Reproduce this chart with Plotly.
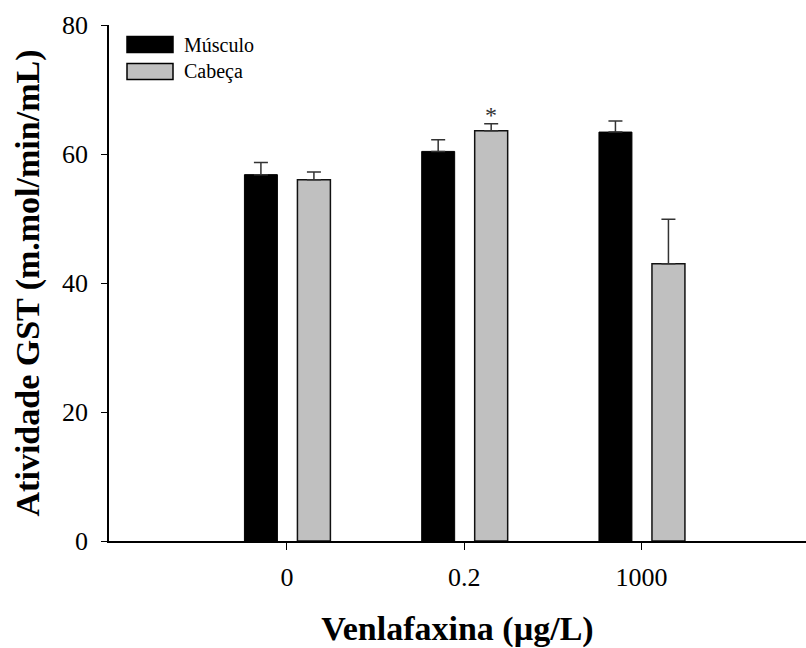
import plotly.graph_objects as go

categories = ["0", "0.2", "1000"]
musculo = [56.8, 60.4, 63.4]
musculo_err = [1.9, 1.8, 1.7]
cabeca = [56.0, 63.6, 43.0]
cabeca_err = [1.2, 1.1, 6.9]
y_ticks = [0, 20, 40, 60, 80]

FONT = "'Times New Roman', 'Liberation Serif', Tinos, 'DejaVu Serif', serif"

xpos = list(range(len(categories)))
bar_w = 0.186

fig = go.Figure()
fig.add_trace(go.Bar(
    x=xpos, y=musculo, name="Músculo", width=bar_w, offset=-0.147 - bar_w / 2,
    marker=dict(color="#000000", line=dict(color="#000000", width=1)),
    error_y=dict(type="data", symmetric=False, array=musculo_err,
                 arrayminus=[0] * 3, color="#333333", thickness=1.5, width=7),
    showlegend=False,
))
fig.add_trace(go.Bar(
    x=xpos, y=cabeca, name="Cabeça", width=bar_w, offset=0.152 - bar_w / 2,
    marker=dict(color="#c0c0c0", line=dict(color="#111111", width=1.5)),
    error_y=dict(type="data", symmetric=False, array=cabeca_err,
                 arrayminus=[0] * 3, color="#333333", thickness=1.5, width=7),
    showlegend=False,
))

# significance marker
fig.add_annotation(x=1 + 0.152, y=cabeca[1] + cabeca_err[1], text="*",
                   showarrow=False, yanchor="bottom", yshift=-6,
                   font=dict(family=FONT, size=24, color="#333"))

# manual legend
leg = [("Músculo", "#000000", 0.962), ("Cabeça", "#c0c0c0", 0.910)]
for name, col, yc in leg:
    fig.add_shape(type="rect", xref="paper", yref="paper",
                  x0=(127 - 109) / 697, x1=(173 - 109) / 697,
                  y0=yc - 8 / 516, y1=yc + 8 / 516,
                  fillcolor=col, line=dict(color="#000", width=1.5))
    fig.add_annotation(xref="paper", yref="paper", x=(182 - 109) / 697, y=yc,
                       text=name, showarrow=False, xanchor="left", yanchor="middle",
                       font=dict(family=FONT, size=20, color="#000"))

fig.update_layout(
    width=806, height=648,
    margin=dict(l=109, r=0, t=25, b=107),
    paper_bgcolor="white", plot_bgcolor="white",
    barmode="overlay",
    font=dict(family=FONT, color="#000"),
    xaxis=dict(
        range=[-1.004, 2.928], tickmode="array", tickvals=xpos, ticktext=categories,
        showline=True, linecolor="#000", linewidth=1.5, ticks="outside",
        ticklen=7, tickwidth=1, tickcolor="#000", showgrid=False, zeroline=False,
        tickfont=dict(family=FONT, size=26), ticklabelstandoff=5,
        title=dict(text="<b>Venlafaxina (µg/L)</b>", standoff=28,
                   font=dict(family=FONT, size=34)),
    ),
    yaxis=dict(
        range=[0, 80], tickvals=y_ticks,
        showline=True, linecolor="#000", linewidth=1.5, ticks="outside",
        ticklen=6, tickwidth=1, tickcolor="#000", showgrid=False, zeroline=False,
        tickfont=dict(family=FONT, size=26), ticklabelstandoff=8,
        title=dict(text="<b>Atividade GST (m.mol/min/mL)</b>", standoff=12,
                   font=dict(family=FONT, size=34)),
    ),
)

fig.write_html("out.html")
